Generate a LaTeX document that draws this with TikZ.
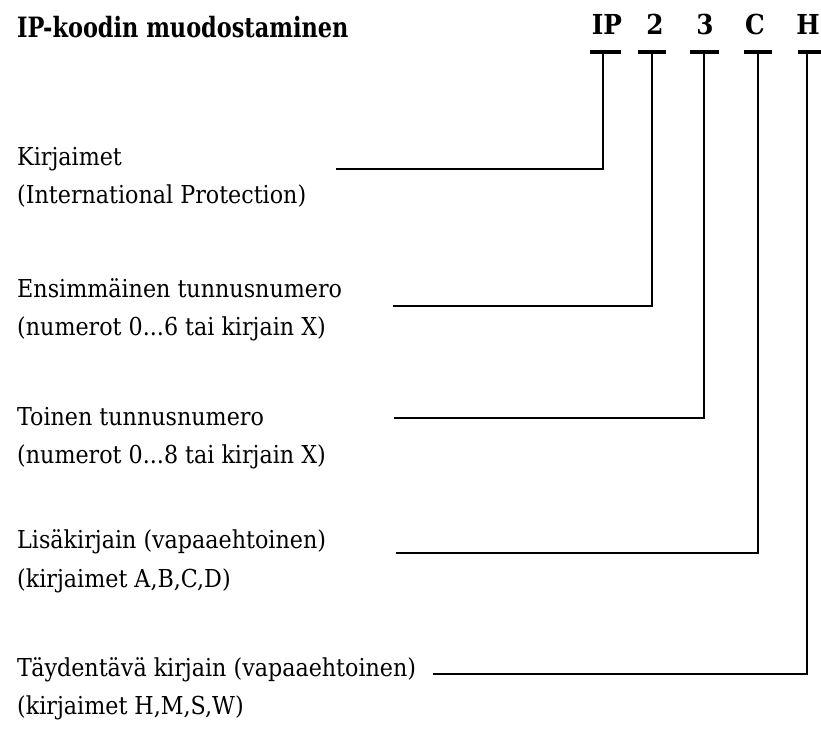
\documentclass[tikz,border=0pt]{standalone}
\usepackage{graphicx}
\usepackage{fontspec}
\setmainfont{DejaVu Serif Condensed}
\begin{document}
\begin{tikzpicture}[x=1pt,y=-1pt,
  lbl/.style={anchor=base west, inner sep=0pt, font=\fontsize{24.7}{30}\selectfont},
  ttl/.style={anchor=base west, inner sep=0pt, font=\bfseries\fontsize{28}{34}\selectfont},
  code/.style={anchor=base, inner sep=0pt, font=\bfseries\fontsize{27.5}{34}\selectfont},
  wire/.style={line width=2.9pt},
  tbar/.style={line width=3.2pt}]
\useasboundingbox (0,0) rectangle (821,730);
\clip (0,0) rectangle (821,730);
% title
\node[ttl] (title) at (17,38) {\scalebox{0.89}[1]{IP-koodin muodostaminen}};
% code letters
\node[code] (cIP) at (607,35) {IP};
\node[code] (c2) at (655,35) {2};
\node[code] (c3) at (705,35) {3};
\node[code] (cC) at (755,35) {C};
\node[code,anchor=base east] (cH) at (820,35) {H};
% T tops
\coordinate (tIP) at (603,52);
\coordinate (t2) at (652,52);
\coordinate (t3) at (704,52);
\coordinate (tC) at (758,52);
\coordinate (tH) at (807,52);
\draw[tbar] ([xshift=-13pt]tIP) -- ([xshift=18pt]tIP);
\draw[tbar] ([xshift=-14pt]t2) -- ([xshift=14pt]t2);
\draw[tbar] ([xshift=-14pt]t3) -- ([xshift=15pt]t3);
\draw[tbar] ([xshift=-14pt]tC) -- ([xshift=14pt]tC);
\draw[tbar] ([xshift=-9pt]tH) -- ([xshift=20pt]tH);
% labels
\node[lbl] (l1a) at (17,166) {Kirjaimet};
\node[lbl] (l1b) at (17,203) {(International Protection)};
\node[lbl] (l2a) at (17,297) {Ensimmäinen tunnusnumero};
\node[lbl] (l2b) at (17,335) {(numerot 0...6 tai kirjain X)};
\node[lbl] (l3a) at (17,425) {Toinen tunnusnumero};
\node[lbl] (l3b) at (17,463) {(numerot 0...8 tai kirjain X)};
\node[lbl] (l4a) at (17,548) {Lisäkirjain (vapaaehtoinen)};
\node[lbl] (l4b) at (17,587) {(kirjaimet A,B,C,D)};
\node[lbl] (l5a) at (17,676) {Täydentävä kirjain (vapaaehtoinen)};
\node[lbl] (l5b) at (17,714) {(kirjaimet H,M,S,W)};
% connector starts
\coordinate (s1) at (336,169);
\coordinate (s2) at (393,306);
\coordinate (s3) at (394,418);
\coordinate (s4) at (396,553);
\coordinate (s5) at (433,674);
\draw[wire] (s1) -| (tIP);
\draw[wire] (s2) -| (t2);
\draw[wire] (s3) -| (t3);
\draw[wire] (s4) -| (tC);
\draw[wire] (s5) -| (tH);
\end{tikzpicture}
\end{document}
